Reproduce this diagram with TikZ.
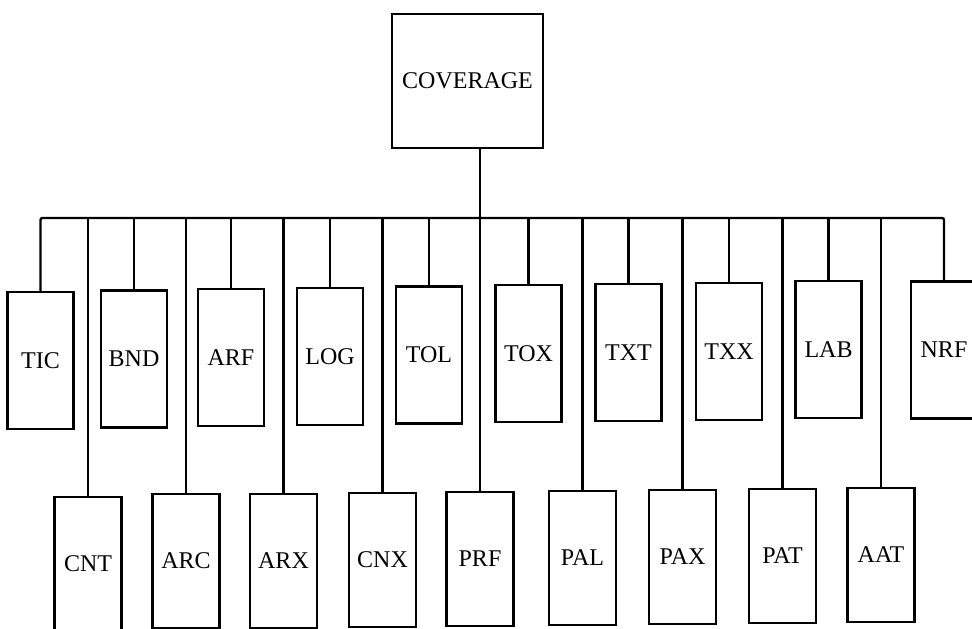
\documentclass[tikz,border=0pt]{standalone}
\usepackage{fontspec}
\setmainfont{Liberation Serif}
\begin{document}
\begin{tikzpicture}[x=1pt,y=-1pt,
  line width=2.4pt,
  every node/.style={font=\fontsize{24}{27}\selectfont},
  topbox/.style={draw,rectangle,line width=2.4pt,minimum width=66pt,minimum height=137pt,inner sep=0pt},
  botbox/.style={draw,rectangle,line width=2.4pt,minimum width=67pt,minimum height=134pt,inner sep=0pt},
  covbox/.style={draw,rectangle,line width=2.4pt,minimum width=151pt,minimum height=134pt,inner sep=0pt},
  link/.style={line width=2.4pt}]
\clip (0,0) rectangle (972,629);
\fill[white] (0,0) rectangle (972,629);
% root
\node[covbox] (cov) at (467.5,81) {COVERAGE};
% top row
\node[topbox] (tic) at (40.5,360.5) {TIC};
\node[topbox] (bnd) at (134,359) {BND};
\node[topbox] (arf) at (231,357.5) {ARF};
\node[topbox] (log) at (330,356.5) {LOG};
\node[topbox] (tol) at (429,355) {TOL};
\node[topbox] (tox) at (528.5,353.5) {TOX};
\node[topbox] (txt) at (628.5,352.5) {TXT};
\node[topbox] (txx) at (729,351.5) {TXX};
\node[topbox] (lab) at (828.5,349.5) {LAB};
\node[topbox] (nrf) at (944,350) {NRF};
% bottom row
\node[botbox] (cnt) at (88,564) {CNT};
\node[botbox] (arc) at (186,561) {ARC};
\node[botbox] (arx) at (283.5,561) {ARX};
\node[botbox] (cnx) at (382.5,560) {CNX};
\node[botbox] (prf) at (480,559) {PRF};
\node[botbox] (pal) at (582.5,558) {PAL};
\node[botbox] (pax) at (682.5,557) {PAX};
\node[botbox] (pat) at (782.5,556) {PAT};
\node[botbox] (aat) at (881,555) {AAT};
% bus
\coordinate (bus) at (0,218);
\draw[link,rounded corners=2pt] (tic.north) -- (tic.north |- bus) -- (nrf.north |- bus) -- (nrf.north);
% root to bus and through to PRF
\draw[link] (prf.north |- cov.south) -- (prf.north);
% top row stems
\foreach \n in {bnd,arf,log,tol,tox,txt,txx,lab}
  \draw[link] (\n.north |- bus) -- (\n.north);
% bottom row stems
\foreach \n in {cnt,arc,arx,cnx,pal,pax,pat,aat}
  \draw[link] (\n.north |- bus) -- (\n.north);
\end{tikzpicture}
\end{document}
